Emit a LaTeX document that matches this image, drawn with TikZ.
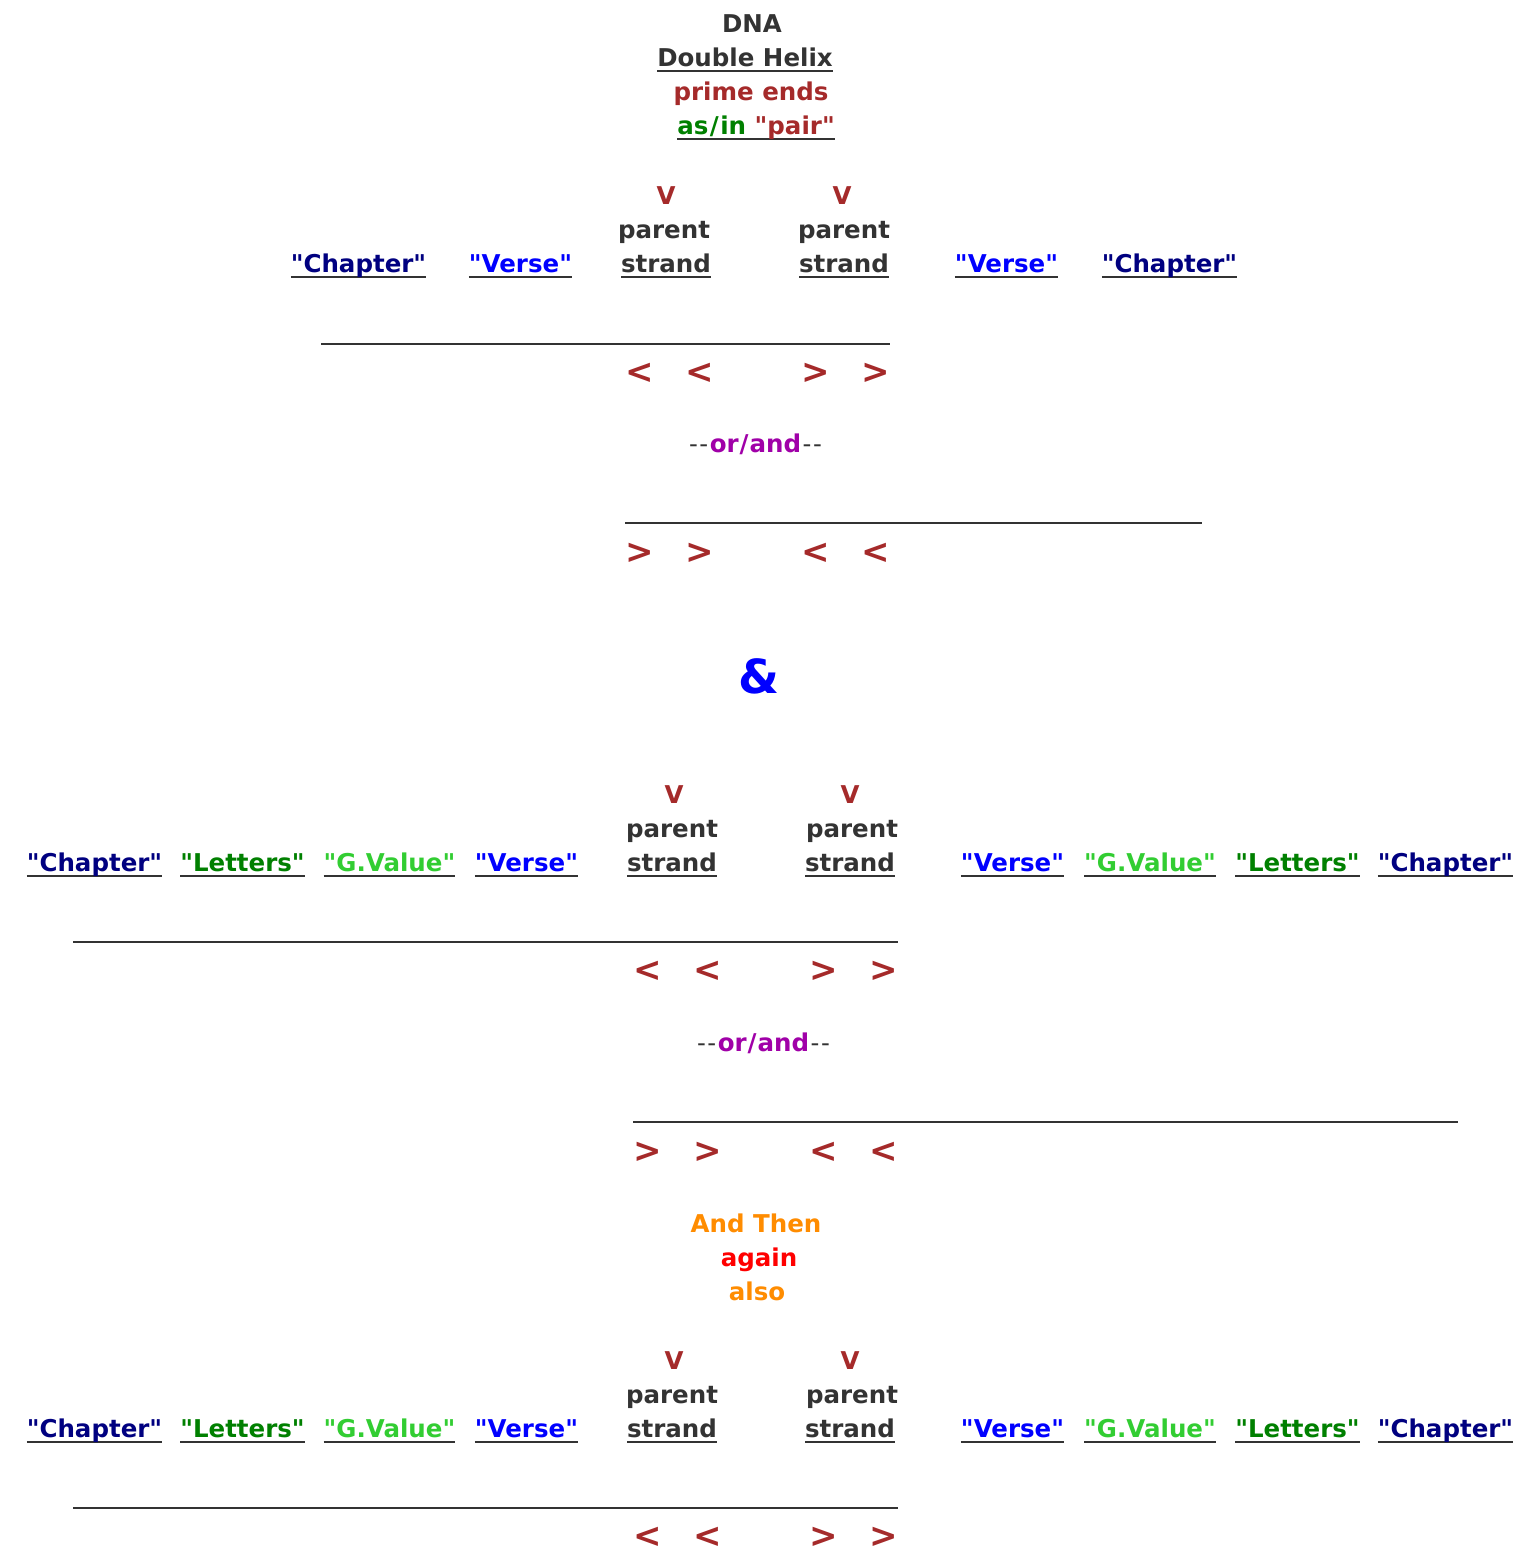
\documentclass[tikz,border=0pt]{standalone}
\usepackage{fontspec}
\newfontfamily\dejavu{DejaVu Sans}
\definecolor{txtgray}{HTML}{333333}
\definecolor{primered}{HTML}{A52A2A}
\definecolor{chapnavy}{HTML}{000080}
\definecolor{verseblue}{HTML}{0000FF}
\definecolor{lettgreen}{HTML}{008000}
\definecolor{gvalgreen}{HTML}{32CD32}
\definecolor{orpurple}{HTML}{A000A8}
\definecolor{thenorange}{HTML}{FF8C00}
\definecolor{againred}{HTML}{FF0000}
\newcommand\ulined[1]{\setbox0\hbox{#1}\rlap{\color{txtgray}\rule[-6pt]{\wd0}{2.2pt}}\box0}
\newcommand\dashes{{\mdseries-\kern1.5pt-\kern1.5pt}}
\newcommand\dashesr{{\mdseries\kern1.5pt-\kern1.5pt-}}
\begin{document}
\begin{tikzpicture}[x=1pt,y=-1pt,
	txt/.style={anchor=base,inner sep=0pt,font=\dejavu\fontsize{24.5}{30}\selectfont\bfseries,text=txtgray},
	arrowmark/.style={txt,text=primered,font=\dejavu\fontsize{34}{40}\selectfont\bfseries},
	strandline/.style={draw=txtgray,line width=2pt}]
	\useasboundingbox[fill=white] (0,0) rectangle (1523,1550);
	\node[txt] (dna) at (752,32) {DNA};
	\node[txt] (helix) at (745,66) {\ulined{Double Helix}};
	\node[txt,text=primered] (prime) at (751,100) {prime ends};
	\node[txt] (pair) at (756,134) {\ulined{\textcolor{lettgreen}{as\kern1.5pt/\kern1.5pt in }\textcolor{primered}{"pair"}}};
	\node[txt,text=primered] (vA1) at (666,204) {V};
	\node[txt,text=primered] (vA2) at (842,204) {V};
	\node[txt] (parentA1) at (664,238) {parent};
	\node[txt] (parentA2) at (844,238) {parent};
	\node[txt] (strandA1) at (666,272) {\ulined{strand}};
	\node[txt] (strandA2) at (844,272) {\ulined{strand}};
	\node[txt] (chapterAL) at (358.5,272) {\ulined{\textcolor{chapnavy}{"Chapter"}}};
	\node[txt] (verseAL) at (520.5,272) {\ulined{\textcolor{verseblue}{"Verse"}}};
	\node[txt] (verseAR) at (1006.5,272) {\ulined{\textcolor{verseblue}{"Verse"}}};
	\node[txt] (chapterAR) at (1169.5,272) {\ulined{\textcolor{chapnavy}{"Chapter"}}};
	\draw[strandline] (321,344) -- (890,344);
	\foreach \x/\s [count=\i] in {640/<,700/<,816/>,876/>}
		\node[arrowmark] (endA\i) at (\x,383) {\s};
	\node[txt] (orA) at (755.5,452) {\dashes\textcolor{orpurple}{or\kern1pt/\kern1pt and}\dashesr};
	\draw[strandline] (625,523) -- (1202,523);
	\foreach \x/\s [count=\i] in {640/>,700/>,816/<,876/<}
		\node[arrowmark] (startA\i) at (\x,563) {\s};
	\node[txt,text=verseblue,font=\dejavu\fontsize{47}{50}\selectfont\bfseries] (amp) at (759,693) {\&};
	\foreach \b/\yo in {B/599,C/1165} {
		\node[txt,text=primered] (v\b1) at (674,204+\yo) {V};
		\node[txt,text=primered] (v\b2) at (850,204+\yo) {V};
		\node[txt] (parent\b1) at (672,238+\yo) {parent};
		\node[txt] (parent\b2) at (852,238+\yo) {parent};
		\node[txt] (strand\b1) at (672,272+\yo) {\ulined{strand}};
		\node[txt] (strand\b2) at (850,272+\yo) {\ulined{strand}};
		\node[txt] (chapter\b L) at (94.5,272+\yo) {\ulined{\textcolor{chapnavy}{"Chapter"}}};
		\node[txt] (letters\b L) at (242.5,272+\yo) {\ulined{\textcolor{lettgreen}{"Letters"}}};
		\node[txt] (gvalue\b L) at (389.5,272+\yo) {\ulined{\textcolor{gvalgreen}{"G.Value"}}};
		\node[txt] (verse\b L) at (526.5,272+\yo) {\ulined{\textcolor{verseblue}{"Verse"}}};
		\node[txt] (verse\b R) at (1012.5,272+\yo) {\ulined{\textcolor{verseblue}{"Verse"}}};
		\node[txt] (gvalue\b R) at (1150,272+\yo) {\ulined{\textcolor{gvalgreen}{"G.Value"}}};
		\node[txt] (letters\b R) at (1297.5,272+\yo) {\ulined{\textcolor{lettgreen}{"Letters"}}};
		\node[txt] (chapter\b R) at (1445.5,272+\yo) {\ulined{\textcolor{chapnavy}{"Chapter"}}};
		\draw[strandline] (73,343+\yo) -- (898,343+\yo);
		\foreach \x/\s [count=\i] in {648/<,708/<,824/>,884/>}
			\node[arrowmark] (end\b\i) at (\x,382+\yo) {\s};
	}
	\node[txt] (orB) at (763.5,1051) {\dashes\textcolor{orpurple}{or\kern1pt/\kern1pt and}\dashesr};
	\draw[strandline] (633,1122) -- (1458,1122);
	\foreach \x/\s [count=\i] in {648/>,708/>,824/<,884/<}
		\node[arrowmark] (startB\i) at (\x,1162) {\s};
	\node[txt,text=thenorange] (andthen) at (756,1232) {And Then};
	\node[txt,text=againred] (again) at (759,1266) {again};
	\node[txt,text=thenorange] (also) at (757,1300) {also};
\end{tikzpicture}
\end{document}
